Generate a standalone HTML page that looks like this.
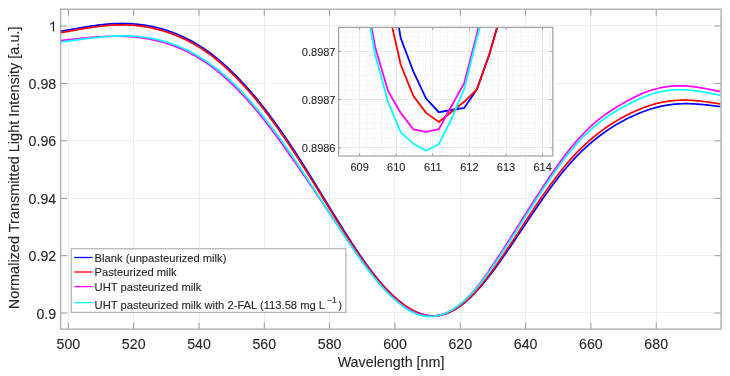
<!DOCTYPE html>
<html><head><meta charset="utf-8"><style>
html,body{margin:0;padding:0;background:#fff;width:730px;height:376px;overflow:hidden}
svg{display:block}
text{font-family:"Liberation Sans",sans-serif;stroke:#262626;stroke-width:0.1px}
svg{will-change:transform}

</style></head><body>
<svg width="730" height="376" viewBox="0 0 730 376">
<g>
<rect width="730" height="376" fill="#fff"/>
<path d="M68.5 9.2V329.1M133.5 9.2V329.1M199.5 9.2V329.1M264.5 9.2V329.1M329.5 9.2V329.1M394.5 9.2V329.1M460.5 9.2V329.1M525.5 9.2V329.1M590.5 9.2V329.1M656.5 9.2V329.1M60.6 25.5H721M60.6 83.5H721M60.6 140.5H721M60.6 198.5H721M60.6 255.5H721M60.6 312.5H721" stroke="#eeeeee" stroke-width="1" fill="none"/>
<defs><clipPath id="cm"><rect x="60.6" y="9.2" width="660.4" height="319.90000000000003"/></clipPath><clipPath id="ci"><rect x="338.6" y="27.4" width="214.2" height="128.6"/></clipPath></defs>
<g clip-path="url(#cm)" fill="none" stroke-width="1.7" stroke-linejoin="round">
<path d="M60.5,31.31 61.5,31.14 62.5,30.96 63.5,30.79 64.5,30.61 65.5,30.44 66.5,30.26 67.5,30.08 68.5,29.91 69.5,29.73 70.5,29.56 71.5,29.38 72.5,29.2 73.5,29.03 74.5,28.85 75.5,28.68 76.5,28.51 77.5,28.33 78.5,28.16 79.5,27.99 80.5,27.82 81.5,27.65 82.5,27.48 83.5,27.31 84.5,27.15 85.5,26.99 86.5,26.82 87.5,26.66 88.5,26.51 89.5,26.35 90.5,26.2 91.5,26.05 92.5,25.9 93.5,25.75 94.5,25.61 95.5,25.47 96.5,25.34 97.5,25.2 98.5,25.08 99.5,24.95 100.5,24.83 101.5,24.72 102.5,24.6 103.5,24.5 104.5,24.39 105.5,24.3 106.5,24.2 107.5,24.12 108.5,24.03 109.5,23.96 110.5,23.88 111.5,23.82 112.5,23.76 113.5,23.7 114.5,23.65 115.5,23.61 116.5,23.57 117.5,23.54 118.5,23.51 119.5,23.49 120.5,23.48 121.5,23.47 122.5,23.47 123.5,23.48 124.5,23.49 125.5,23.51 126.5,23.53 127.5,23.57 128.5,23.6 129.5,23.65 130.5,23.7 131.5,23.76 132.5,23.83 133.5,23.9 134.5,23.98 135.5,24.06 136.5,24.15 137.5,24.25 138.5,24.36 139.5,24.47 140.5,24.59 141.5,24.72 142.5,24.85 143.5,25.0 144.5,25.15 145.5,25.3 146.5,25.46 147.5,25.64 148.5,25.81 149.5,26.0 150.5,26.19 151.5,26.39 152.5,26.6 153.5,26.82 154.5,27.04 155.5,27.28 156.5,27.51 157.5,27.76 158.5,28.02 159.5,28.28 160.5,28.55 161.5,28.83 162.5,29.11 163.5,29.41 164.5,29.71 165.5,30.02 166.5,30.34 167.5,30.67 168.5,31.0 169.5,31.34 170.5,31.69 171.5,32.05 172.5,32.42 173.5,32.79 174.5,33.18 175.5,33.57 176.5,33.97 177.5,34.38 178.5,34.8 179.5,35.23 180.5,35.66 181.5,36.11 182.5,36.56 183.5,37.02 184.5,37.5 185.5,37.98 186.5,38.47 187.5,38.97 188.5,39.48 189.5,40.0 190.5,40.53 191.5,41.06 192.5,41.61 193.5,42.17 194.5,42.74 195.5,43.32 196.5,43.91 197.5,44.51 198.5,45.12 199.5,45.74 200.5,46.37 201.5,47.01 202.5,47.66 203.5,48.32 204.5,48.99 205.5,49.68 206.5,50.37 207.5,51.08 208.5,51.8 209.5,52.53 210.5,53.27 211.5,54.02 212.5,54.79 213.5,55.56 214.5,56.35 215.5,57.15 216.5,57.96 217.5,58.78 218.5,59.62 219.5,60.46 220.5,61.32 221.5,62.18 222.5,63.06 223.5,63.95 224.5,64.84 225.5,65.74 226.5,66.66 227.5,67.58 228.5,68.51 229.5,69.45 230.5,70.4 231.5,71.36 232.5,72.33 233.5,73.31 234.5,74.3 235.5,75.29 236.5,76.3 237.5,77.32 238.5,78.34 239.5,79.38 240.5,80.43 241.5,81.48 242.5,82.55 243.5,83.62 244.5,84.71 245.5,85.8 246.5,86.91 247.5,88.02 248.5,89.15 249.5,90.29 250.5,91.43 251.5,92.59 252.5,93.76 253.5,94.93 254.5,96.12 255.5,97.32 256.5,98.53 257.5,99.75 258.5,100.98 259.5,102.22 260.5,103.47 261.5,104.73 262.5,106.0 263.5,107.28 264.5,108.56 265.5,109.86 266.5,111.16 267.5,112.48 268.5,113.8 269.5,115.13 270.5,116.47 271.5,117.81 272.5,119.17 273.5,120.53 274.5,121.9 275.5,123.28 276.5,124.67 277.5,126.06 278.5,127.47 279.5,128.88 280.5,130.29 281.5,131.72 282.5,133.15 283.5,134.6 284.5,136.05 285.5,137.51 286.5,138.97 287.5,140.45 288.5,141.93 289.5,143.42 290.5,144.92 291.5,146.43 292.5,147.95 293.5,149.47 294.5,151.0 295.5,152.54 296.5,154.08 297.5,155.63 298.5,157.19 299.5,158.75 300.5,160.32 301.5,161.9 302.5,163.47 303.5,165.06 304.5,166.65 305.5,168.24 306.5,169.84 307.5,171.44 308.5,173.04 309.5,174.65 310.5,176.27 311.5,177.88 312.5,179.5 313.5,181.12 314.5,182.75 315.5,184.37 316.5,186.0 317.5,187.64 318.5,189.27 319.5,190.9 320.5,192.54 321.5,194.18 322.5,195.82 323.5,197.46 324.5,199.09 325.5,200.73 326.5,202.37 327.5,204.01 328.5,205.64 329.5,207.28 330.5,208.91 331.5,210.54 332.5,212.17 333.5,213.79 334.5,215.41 335.5,217.03 336.5,218.65 337.5,220.26 338.5,221.87 339.5,223.47 340.5,225.07 341.5,226.67 342.5,228.26 343.5,229.84 344.5,231.43 345.5,233.0 346.5,234.57 347.5,236.14 348.5,237.7 349.5,239.25 350.5,240.8 351.5,242.35 352.5,243.88 353.5,245.41 354.5,246.93 355.5,248.44 356.5,249.94 357.5,251.44 358.5,252.92 359.5,254.4 360.5,255.86 361.5,257.32 362.5,258.76 363.5,260.19 364.5,261.61 365.5,263.02 366.5,264.42 367.5,265.8 368.5,267.17 369.5,268.53 370.5,269.87 371.5,271.19 372.5,272.51 373.5,273.8 374.5,275.09 375.5,276.35 376.5,277.6 377.5,278.83 378.5,280.05 379.5,281.24 380.5,282.42 381.5,283.58 382.5,284.73 383.5,285.85 384.5,286.96 385.5,288.04 386.5,289.11 387.5,290.17 388.5,291.2 389.5,292.21 390.5,293.21 391.5,294.19 392.5,295.15 393.5,296.09 394.5,297.02 395.5,297.92 396.5,298.81 397.5,299.68 398.5,300.53 399.5,301.36 400.5,302.17 401.5,302.96 402.5,303.73 403.5,304.47 404.5,305.2 405.5,305.91 406.5,306.59 407.5,307.26 408.5,307.9 409.5,308.52 410.5,309.11 411.5,309.68 412.5,310.23 413.5,310.76 414.5,311.26 415.5,311.74 416.5,312.19 417.5,312.62 418.5,313.02 419.5,313.4 420.5,313.75 421.5,314.08 422.5,314.38 423.5,314.66 424.5,314.91 425.5,315.13 426.5,315.33 427.5,315.49 428.5,315.64 429.5,315.75 430.5,315.84 431.5,315.9 432.5,315.94 433.5,315.94 434.5,315.92 435.5,315.87 436.5,315.79 437.5,315.68 438.5,315.55 439.5,315.39 440.5,315.2 441.5,314.98 442.5,314.74 443.5,314.47 444.5,314.17 445.5,313.85 446.5,313.49 447.5,313.11 448.5,312.71 449.5,312.27 450.5,311.81 451.5,311.32 452.5,310.81 453.5,310.27 454.5,309.71 455.5,309.12 456.5,308.5 457.5,307.86 458.5,307.19 459.5,306.5 460.5,305.78 461.5,305.04 462.5,304.27 463.5,303.48 464.5,302.67 465.5,301.83 466.5,300.97 467.5,300.09 468.5,299.19 469.5,298.26 470.5,297.31 471.5,296.34 472.5,295.35 473.5,294.34 474.5,293.32 475.5,292.27 476.5,291.2 477.5,290.11 478.5,289.01 479.5,287.88 480.5,286.74 481.5,285.58 482.5,284.41 483.5,283.22 484.5,282.01 485.5,280.79 486.5,279.55 487.5,278.29 488.5,277.02 489.5,275.74 490.5,274.45 491.5,273.14 492.5,271.81 493.5,270.48 494.5,269.13 495.5,267.78 496.5,266.41 497.5,265.03 498.5,263.65 499.5,262.25 500.5,260.85 501.5,259.43 502.5,258.01 503.5,256.59 504.5,255.15 505.5,253.71 506.5,252.27 507.5,250.82 508.5,249.36 509.5,247.9 510.5,246.44 511.5,244.97 512.5,243.5 513.5,242.03 514.5,240.55 515.5,239.07 516.5,237.58 517.5,236.09 518.5,234.6 519.5,233.11 520.5,231.62 521.5,230.12 522.5,228.62 523.5,227.11 524.5,225.61 525.5,224.11 526.5,222.6 527.5,221.1 528.5,219.6 529.5,218.1 530.5,216.6 531.5,215.11 532.5,213.62 533.5,212.14 534.5,210.66 535.5,209.18 536.5,207.71 537.5,206.25 538.5,204.79 539.5,203.34 540.5,201.9 541.5,200.47 542.5,199.04 543.5,197.62 544.5,196.2 545.5,194.8 546.5,193.4 547.5,192.01 548.5,190.63 549.5,189.26 550.5,187.9 551.5,186.54 552.5,185.19 553.5,183.86 554.5,182.53 555.5,181.21 556.5,179.91 557.5,178.61 558.5,177.33 559.5,176.06 560.5,174.8 561.5,173.55 562.5,172.32 563.5,171.09 564.5,169.89 565.5,168.69 566.5,167.51 567.5,166.34 568.5,165.19 569.5,164.05 570.5,162.92 571.5,161.81 572.5,160.71 573.5,159.62 574.5,158.55 575.5,157.49 576.5,156.45 577.5,155.42 578.5,154.4 579.5,153.4 580.5,152.42 581.5,151.44 582.5,150.48 583.5,149.54 584.5,148.61 585.5,147.68 586.5,146.78 587.5,145.88 588.5,144.99 589.5,144.12 590.5,143.26 591.5,142.41 592.5,141.57 593.5,140.74 594.5,139.92 595.5,139.11 596.5,138.31 597.5,137.52 598.5,136.74 599.5,135.98 600.5,135.22 601.5,134.48 602.5,133.74 603.5,133.02 604.5,132.31 605.5,131.6 606.5,130.91 607.5,130.23 608.5,129.56 609.5,128.9 610.5,128.25 611.5,127.6 612.5,126.97 613.5,126.35 614.5,125.74 615.5,125.14 616.5,124.54 617.5,123.96 618.5,123.38 619.5,122.81 620.5,122.25 621.5,121.7 622.5,121.16 623.5,120.63 624.5,120.1 625.5,119.58 626.5,119.07 627.5,118.57 628.5,118.08 629.5,117.59 630.5,117.11 631.5,116.64 632.5,116.18 633.5,115.72 634.5,115.27 635.5,114.83 636.5,114.39 637.5,113.96 638.5,113.54 639.5,113.13 640.5,112.72 641.5,112.33 642.5,111.94 643.5,111.56 644.5,111.18 645.5,110.82 646.5,110.46 647.5,110.11 648.5,109.77 649.5,109.44 650.5,109.12 651.5,108.81 652.5,108.51 653.5,108.21 654.5,107.93 655.5,107.65 656.5,107.39 657.5,107.13 658.5,106.88 659.5,106.65 660.5,106.42 661.5,106.2 662.5,106.0 663.5,105.8 664.5,105.61 665.5,105.43 666.5,105.26 667.5,105.1 668.5,104.94 669.5,104.8 670.5,104.67 671.5,104.54 672.5,104.43 673.5,104.32 674.5,104.22 675.5,104.13 676.5,104.05 677.5,103.97 678.5,103.91 679.5,103.85 680.5,103.8 681.5,103.76 682.5,103.73 683.5,103.71 684.5,103.69 685.5,103.69 686.5,103.68 687.5,103.69 688.5,103.7 689.5,103.73 690.5,103.75 691.5,103.79 692.5,103.83 693.5,103.88 694.5,103.93 695.5,103.99 696.5,104.05 697.5,104.12 698.5,104.2 699.5,104.28 700.5,104.36 701.5,104.45 702.5,104.54 703.5,104.64 704.5,104.73 705.5,104.84 706.5,104.94 707.5,105.05 708.5,105.16 709.5,105.27 710.5,105.39 711.5,105.51 712.5,105.62 713.5,105.74 714.5,105.87 715.5,105.99 716.5,106.11 717.5,106.24 718.5,106.36 719.5,106.49 720.5,106.61" stroke="#0000ff"/>
<path d="M60.5,32.71 61.5,32.53 62.5,32.35 63.5,32.18 64.5,32.0 65.5,31.82 66.5,31.65 67.5,31.47 68.5,31.29 69.5,31.11 70.5,30.94 71.5,30.76 72.5,30.58 73.5,30.41 74.5,30.23 75.5,30.06 76.5,29.88 77.5,29.71 78.5,29.53 79.5,29.36 80.5,29.19 81.5,29.02 82.5,28.85 83.5,28.69 84.5,28.52 85.5,28.36 86.5,28.2 87.5,28.04 88.5,27.88 89.5,27.73 90.5,27.58 91.5,27.43 92.5,27.28 93.5,27.14 94.5,27.0 95.5,26.86 96.5,26.73 97.5,26.6 98.5,26.47 99.5,26.35 100.5,26.23 101.5,26.12 102.5,26.01 103.5,25.9 104.5,25.8 105.5,25.71 106.5,25.62 107.5,25.53 108.5,25.45 109.5,25.38 110.5,25.31 111.5,25.24 112.5,25.18 113.5,25.13 114.5,25.08 115.5,25.04 116.5,25.0 117.5,24.97 118.5,24.95 119.5,24.93 120.5,24.92 121.5,24.91 122.5,24.91 123.5,24.92 124.5,24.93 125.5,24.95 126.5,24.98 127.5,25.01 128.5,25.05 129.5,25.09 130.5,25.15 131.5,25.21 132.5,25.27 133.5,25.35 134.5,25.43 135.5,25.52 136.5,25.61 137.5,25.72 138.5,25.83 139.5,25.94 140.5,26.07 141.5,26.2 142.5,26.34 143.5,26.49 144.5,26.64 145.5,26.8 146.5,26.97 147.5,27.15 148.5,27.34 149.5,27.53 150.5,27.73 151.5,27.93 152.5,28.15 153.5,28.37 154.5,28.6 155.5,28.83 156.5,29.08 157.5,29.33 158.5,29.59 159.5,29.86 160.5,30.13 161.5,30.41 162.5,30.7 163.5,31.0 164.5,31.3 165.5,31.62 166.5,31.94 167.5,32.27 168.5,32.61 169.5,32.95 170.5,33.3 171.5,33.67 172.5,34.04 173.5,34.41 174.5,34.8 175.5,35.19 176.5,35.6 177.5,36.01 178.5,36.43 179.5,36.86 180.5,37.29 181.5,37.74 182.5,38.19 183.5,38.66 184.5,39.13 185.5,39.61 186.5,40.1 187.5,40.61 188.5,41.12 189.5,41.64 190.5,42.16 191.5,42.7 192.5,43.25 193.5,43.81 194.5,44.38 195.5,44.96 196.5,45.55 197.5,46.15 198.5,46.76 199.5,47.38 200.5,48.01 201.5,48.65 202.5,49.3 203.5,49.96 204.5,50.63 205.5,51.32 206.5,52.01 207.5,52.72 208.5,53.44 209.5,54.17 210.5,54.91 211.5,55.66 212.5,56.43 213.5,57.2 214.5,57.99 215.5,58.79 216.5,59.6 217.5,60.42 218.5,61.26 219.5,62.1 220.5,62.96 221.5,63.82 222.5,64.7 223.5,65.58 224.5,66.48 225.5,67.38 226.5,68.3 227.5,69.22 228.5,70.15 229.5,71.1 230.5,72.05 231.5,73.01 232.5,73.98 233.5,74.96 234.5,75.95 235.5,76.95 236.5,77.96 237.5,78.98 238.5,80.01 239.5,81.05 240.5,82.09 241.5,83.15 242.5,84.22 243.5,85.3 244.5,86.39 245.5,87.49 246.5,88.6 247.5,89.72 248.5,90.85 249.5,91.99 250.5,93.14 251.5,94.31 252.5,95.48 253.5,96.66 254.5,97.85 255.5,99.05 256.5,100.27 257.5,101.49 258.5,102.73 259.5,103.97 260.5,105.23 261.5,106.49 262.5,107.76 263.5,109.05 264.5,110.34 265.5,111.65 266.5,112.96 267.5,114.28 268.5,115.61 269.5,116.95 270.5,118.3 271.5,119.66 272.5,121.02 273.5,122.39 274.5,123.77 275.5,125.16 276.5,126.55 277.5,127.96 278.5,129.37 279.5,130.78 280.5,132.21 281.5,133.64 282.5,135.08 283.5,136.52 284.5,137.98 285.5,139.44 286.5,140.91 287.5,142.39 288.5,143.88 289.5,145.37 290.5,146.87 291.5,148.38 292.5,149.9 293.5,151.42 294.5,152.95 295.5,154.48 296.5,156.02 297.5,157.56 298.5,159.11 299.5,160.66 300.5,162.22 301.5,163.78 302.5,165.35 303.5,166.92 304.5,168.49 305.5,170.07 306.5,171.65 307.5,173.24 308.5,174.83 309.5,176.42 310.5,178.02 311.5,179.62 312.5,181.22 313.5,182.83 314.5,184.44 315.5,186.05 316.5,187.66 317.5,189.28 318.5,190.9 319.5,192.52 320.5,194.15 321.5,195.77 322.5,197.4 323.5,199.03 324.5,200.66 325.5,202.29 326.5,203.92 327.5,205.54 328.5,207.17 329.5,208.79 330.5,210.42 331.5,212.04 332.5,213.65 333.5,215.27 334.5,216.88 335.5,218.49 336.5,220.09 337.5,221.69 338.5,223.28 339.5,224.87 340.5,226.45 341.5,228.03 342.5,229.6 343.5,231.17 344.5,232.74 345.5,234.3 346.5,235.85 347.5,237.4 348.5,238.94 349.5,240.48 350.5,242.01 351.5,243.53 352.5,245.05 353.5,246.56 354.5,248.06 355.5,249.55 356.5,251.04 357.5,252.51 358.5,253.97 359.5,255.42 360.5,256.87 361.5,258.3 362.5,259.71 363.5,261.12 364.5,262.51 365.5,263.89 366.5,265.26 367.5,266.61 368.5,267.95 369.5,269.27 370.5,270.58 371.5,271.87 372.5,273.15 373.5,274.41 374.5,275.66 375.5,276.89 376.5,278.11 377.5,279.3 378.5,280.49 379.5,281.65 380.5,282.8 381.5,283.93 382.5,285.05 383.5,286.14 384.5,287.22 385.5,288.28 386.5,289.33 387.5,290.36 388.5,291.37 389.5,292.36 390.5,293.34 391.5,294.3 392.5,295.24 393.5,296.16 394.5,297.07 395.5,297.96 396.5,298.84 397.5,299.69 398.5,300.53 399.5,301.34 400.5,302.14 401.5,302.92 402.5,303.68 403.5,304.42 404.5,305.14 405.5,305.84 406.5,306.52 407.5,307.18 408.5,307.82 409.5,308.43 410.5,309.02 411.5,309.59 412.5,310.14 413.5,310.66 414.5,311.16 415.5,311.64 416.5,312.1 417.5,312.53 418.5,312.93 419.5,313.31 420.5,313.67 421.5,314.0 422.5,314.31 423.5,314.59 424.5,314.84 425.5,315.07 426.5,315.27 427.5,315.45 428.5,315.6 429.5,315.72 430.5,315.82 431.5,315.89 432.5,315.93 433.5,315.94 434.5,315.92 435.5,315.88 436.5,315.8 437.5,315.7 438.5,315.58 439.5,315.42 440.5,315.23 441.5,315.02 442.5,314.78 443.5,314.51 444.5,314.21 445.5,313.89 446.5,313.53 447.5,313.15 448.5,312.74 449.5,312.31 450.5,311.84 451.5,311.35 452.5,310.83 453.5,310.29 454.5,309.72 455.5,309.12 456.5,308.49 457.5,307.83 458.5,307.15 459.5,306.45 460.5,305.71 461.5,304.95 462.5,304.17 463.5,303.36 464.5,302.52 465.5,301.66 466.5,300.78 467.5,299.87 468.5,298.93 469.5,297.98 470.5,297.0 471.5,295.99 472.5,294.97 473.5,293.92 474.5,292.85 475.5,291.76 476.5,290.65 477.5,289.52 478.5,288.37 479.5,287.2 480.5,286.01 481.5,284.8 482.5,283.57 483.5,282.33 484.5,281.07 485.5,279.79 486.5,278.5 487.5,277.19 488.5,275.87 489.5,274.53 490.5,273.18 491.5,271.82 492.5,270.45 493.5,269.06 494.5,267.66 495.5,266.26 496.5,264.84 497.5,263.41 498.5,261.98 499.5,260.53 500.5,259.08 501.5,257.62 502.5,256.15 503.5,254.68 504.5,253.2 505.5,251.72 506.5,250.23 507.5,248.74 508.5,247.25 509.5,245.75 510.5,244.25 511.5,242.74 512.5,241.23 513.5,239.72 514.5,238.2 515.5,236.68 516.5,235.16 517.5,233.63 518.5,232.1 519.5,230.57 520.5,229.04 521.5,227.5 522.5,225.97 523.5,224.43 524.5,222.89 525.5,221.35 526.5,219.81 527.5,218.27 528.5,216.74 529.5,215.2 530.5,213.67 531.5,212.15 532.5,210.63 533.5,209.11 534.5,207.61 535.5,206.1 536.5,204.61 537.5,203.12 538.5,201.65 539.5,200.18 540.5,198.72 541.5,197.27 542.5,195.83 543.5,194.4 544.5,192.98 545.5,191.56 546.5,190.16 547.5,188.76 548.5,187.37 549.5,185.99 550.5,184.62 551.5,183.25 552.5,181.9 553.5,180.55 554.5,179.22 555.5,177.89 556.5,176.58 557.5,175.27 558.5,173.98 559.5,172.7 560.5,171.43 561.5,170.17 562.5,168.93 563.5,167.7 564.5,166.48 565.5,165.27 566.5,164.08 567.5,162.91 568.5,161.74 569.5,160.6 570.5,159.47 571.5,158.35 572.5,157.25 573.5,156.16 574.5,155.09 575.5,154.04 576.5,152.99 577.5,151.96 578.5,150.95 579.5,149.95 580.5,148.96 581.5,147.99 582.5,147.03 583.5,146.08 584.5,145.14 585.5,144.22 586.5,143.3 587.5,142.4 588.5,141.51 589.5,140.63 590.5,139.76 591.5,138.89 592.5,138.04 593.5,137.2 594.5,136.37 595.5,135.55 596.5,134.74 597.5,133.94 598.5,133.15 599.5,132.38 600.5,131.61 601.5,130.86 602.5,130.11 603.5,129.38 604.5,128.66 605.5,127.96 606.5,127.26 607.5,126.57 608.5,125.9 609.5,125.24 610.5,124.58 611.5,123.94 612.5,123.31 613.5,122.68 614.5,122.07 615.5,121.46 616.5,120.86 617.5,120.27 618.5,119.69 619.5,119.12 620.5,118.56 621.5,118.0 622.5,117.45 623.5,116.91 624.5,116.37 625.5,115.84 626.5,115.32 627.5,114.81 628.5,114.31 629.5,113.81 630.5,113.32 631.5,112.84 632.5,112.36 633.5,111.9 634.5,111.44 635.5,110.99 636.5,110.54 637.5,110.11 638.5,109.68 639.5,109.26 640.5,108.86 641.5,108.46 642.5,108.06 643.5,107.68 644.5,107.31 645.5,106.94 646.5,106.59 647.5,106.24 648.5,105.9 649.5,105.58 650.5,105.26 651.5,104.95 652.5,104.65 653.5,104.36 654.5,104.08 655.5,103.81 656.5,103.55 657.5,103.3 658.5,103.06 659.5,102.83 660.5,102.61 661.5,102.4 662.5,102.2 663.5,102.01 664.5,101.83 665.5,101.66 666.5,101.5 667.5,101.35 668.5,101.2 669.5,101.07 670.5,100.95 671.5,100.83 672.5,100.73 673.5,100.63 674.5,100.54 675.5,100.46 676.5,100.4 677.5,100.34 678.5,100.28 679.5,100.24 680.5,100.21 681.5,100.18 682.5,100.17 683.5,100.16 684.5,100.16 685.5,100.17 686.5,100.18 687.5,100.21 688.5,100.24 689.5,100.28 690.5,100.32 691.5,100.37 692.5,100.43 693.5,100.5 694.5,100.57 695.5,100.65 696.5,100.73 697.5,100.82 698.5,100.92 699.5,101.02 700.5,101.12 701.5,101.24 702.5,101.35 703.5,101.47 704.5,101.6 705.5,101.72 706.5,101.86 707.5,101.99 708.5,102.13 709.5,102.27 710.5,102.42 711.5,102.57 712.5,102.72 713.5,102.87 714.5,103.02 715.5,103.18 716.5,103.33 717.5,103.49 718.5,103.65 719.5,103.81 720.5,103.97" stroke="#ff0000"/>
<path d="M60.5,40.57 61.5,40.46 62.5,40.35 63.5,40.24 64.5,40.13 65.5,40.02 66.5,39.91 67.5,39.8 68.5,39.69 69.5,39.58 70.5,39.47 71.5,39.36 72.5,39.26 73.5,39.15 74.5,39.04 75.5,38.94 76.5,38.83 77.5,38.72 78.5,38.62 79.5,38.52 80.5,38.42 81.5,38.32 82.5,38.22 83.5,38.12 84.5,38.02 85.5,37.93 86.5,37.83 87.5,37.74 88.5,37.65 89.5,37.56 90.5,37.47 91.5,37.39 92.5,37.3 93.5,37.22 94.5,37.14 95.5,37.07 96.5,36.99 97.5,36.92 98.5,36.85 99.5,36.79 100.5,36.73 101.5,36.67 102.5,36.61 103.5,36.56 104.5,36.51 105.5,36.47 106.5,36.43 107.5,36.39 108.5,36.35 109.5,36.32 110.5,36.3 111.5,36.27 112.5,36.25 113.5,36.24 114.5,36.23 115.5,36.22 116.5,36.22 117.5,36.22 118.5,36.23 119.5,36.24 120.5,36.25 121.5,36.27 122.5,36.3 123.5,36.33 124.5,36.36 125.5,36.4 126.5,36.44 127.5,36.49 128.5,36.55 129.5,36.61 130.5,36.67 131.5,36.74 132.5,36.82 133.5,36.91 134.5,37.0 135.5,37.09 136.5,37.19 137.5,37.3 138.5,37.42 139.5,37.54 140.5,37.66 141.5,37.8 142.5,37.94 143.5,38.09 144.5,38.24 145.5,38.4 146.5,38.57 147.5,38.74 148.5,38.92 149.5,39.11 150.5,39.3 151.5,39.5 152.5,39.71 153.5,39.93 154.5,40.15 155.5,40.38 156.5,40.61 157.5,40.85 158.5,41.1 159.5,41.36 160.5,41.63 161.5,41.9 162.5,42.18 163.5,42.46 164.5,42.76 165.5,43.06 166.5,43.37 167.5,43.69 168.5,44.02 169.5,44.35 170.5,44.7 171.5,45.05 172.5,45.41 173.5,45.78 174.5,46.16 175.5,46.54 176.5,46.94 177.5,47.34 178.5,47.75 179.5,48.17 180.5,48.6 181.5,49.04 182.5,49.48 183.5,49.93 184.5,50.4 185.5,50.87 186.5,51.35 187.5,51.84 188.5,52.34 189.5,52.84 190.5,53.36 191.5,53.89 192.5,54.43 193.5,54.97 194.5,55.53 195.5,56.09 196.5,56.67 197.5,57.26 198.5,57.85 199.5,58.46 200.5,59.08 201.5,59.71 202.5,60.35 203.5,61.0 204.5,61.66 205.5,62.34 206.5,63.02 207.5,63.71 208.5,64.42 209.5,65.13 210.5,65.85 211.5,66.59 212.5,67.34 213.5,68.09 214.5,68.86 215.5,69.64 216.5,70.43 217.5,71.23 218.5,72.04 219.5,72.86 220.5,73.69 221.5,74.53 222.5,75.39 223.5,76.25 224.5,77.12 225.5,78.01 226.5,78.9 227.5,79.81 228.5,80.73 229.5,81.65 230.5,82.59 231.5,83.54 232.5,84.5 233.5,85.47 234.5,86.45 235.5,87.44 236.5,88.44 237.5,89.45 238.5,90.48 239.5,91.51 240.5,92.56 241.5,93.61 242.5,94.68 243.5,95.75 244.5,96.84 245.5,97.94 246.5,99.04 247.5,100.16 248.5,101.28 249.5,102.41 250.5,103.55 251.5,104.7 252.5,105.86 253.5,107.02 254.5,108.2 255.5,109.38 256.5,110.57 257.5,111.77 258.5,112.97 259.5,114.19 260.5,115.41 261.5,116.65 262.5,117.89 263.5,119.14 264.5,120.4 265.5,121.67 266.5,122.94 267.5,124.23 268.5,125.53 269.5,126.83 270.5,128.14 271.5,129.47 272.5,130.8 273.5,132.14 274.5,133.48 275.5,134.84 276.5,136.2 277.5,137.57 278.5,138.95 279.5,140.34 280.5,141.73 281.5,143.13 282.5,144.54 283.5,145.95 284.5,147.36 285.5,148.79 286.5,150.21 287.5,151.64 288.5,153.07 289.5,154.51 290.5,155.94 291.5,157.38 292.5,158.81 293.5,160.25 294.5,161.69 295.5,163.13 296.5,164.57 297.5,166.01 298.5,167.46 299.5,168.9 300.5,170.35 301.5,171.8 302.5,173.25 303.5,174.7 304.5,176.15 305.5,177.61 306.5,179.07 307.5,180.53 308.5,182.0 309.5,183.46 310.5,184.93 311.5,186.41 312.5,187.88 313.5,189.36 314.5,190.84 315.5,192.33 316.5,193.82 317.5,195.31 318.5,196.8 319.5,198.3 320.5,199.8 321.5,201.3 322.5,202.8 323.5,204.3 324.5,205.81 325.5,207.31 326.5,208.81 327.5,210.32 328.5,211.82 329.5,213.33 330.5,214.83 331.5,216.33 332.5,217.83 333.5,219.33 334.5,220.83 335.5,222.32 336.5,223.81 337.5,225.3 338.5,226.79 339.5,228.28 340.5,229.77 341.5,231.26 342.5,232.74 343.5,234.23 344.5,235.71 345.5,237.19 346.5,238.68 347.5,240.16 348.5,241.64 349.5,243.11 350.5,244.59 351.5,246.06 352.5,247.52 353.5,248.98 354.5,250.44 355.5,251.89 356.5,253.33 357.5,254.76 358.5,256.19 359.5,257.61 360.5,259.01 361.5,260.41 362.5,261.8 363.5,263.18 364.5,264.54 365.5,265.89 366.5,267.23 367.5,268.56 368.5,269.87 369.5,271.17 370.5,272.46 371.5,273.73 372.5,274.99 373.5,276.23 374.5,277.46 375.5,278.67 376.5,279.87 377.5,281.06 378.5,282.23 379.5,283.38 380.5,284.51 381.5,285.63 382.5,286.74 383.5,287.82 384.5,288.89 385.5,289.95 386.5,290.98 387.5,292.0 388.5,293.0 389.5,293.99 390.5,294.95 391.5,295.9 392.5,296.83 393.5,297.75 394.5,298.65 395.5,299.52 396.5,300.38 397.5,301.22 398.5,302.05 399.5,302.85 400.5,303.63 401.5,304.39 402.5,305.13 403.5,305.85 404.5,306.55 405.5,307.22 406.5,307.87 407.5,308.5 408.5,309.1 409.5,309.68 410.5,310.24 411.5,310.77 412.5,311.28 413.5,311.77 414.5,312.22 415.5,312.66 416.5,313.07 417.5,313.45 418.5,313.81 419.5,314.14 420.5,314.44 421.5,314.72 422.5,314.98 423.5,315.2 424.5,315.4 425.5,315.58 426.5,315.72 427.5,315.84 428.5,315.93 429.5,315.99 430.5,316.03 431.5,316.04 432.5,316.02 433.5,315.97 434.5,315.89 435.5,315.79 436.5,315.65 437.5,315.49 438.5,315.3 439.5,315.08 440.5,314.83 441.5,314.56 442.5,314.25 443.5,313.92 444.5,313.56 445.5,313.18 446.5,312.76 447.5,312.32 448.5,311.85 449.5,311.35 450.5,310.82 451.5,310.27 452.5,309.69 453.5,309.08 454.5,308.44 455.5,307.77 456.5,307.08 457.5,306.36 458.5,305.61 459.5,304.83 460.5,304.02 461.5,303.19 462.5,302.33 463.5,301.44 464.5,300.52 465.5,299.58 466.5,298.61 467.5,297.62 468.5,296.6 469.5,295.55 470.5,294.48 471.5,293.38 472.5,292.26 473.5,291.12 474.5,289.95 475.5,288.76 476.5,287.54 477.5,286.31 478.5,285.05 479.5,283.77 480.5,282.47 481.5,281.15 482.5,279.81 483.5,278.46 484.5,277.08 485.5,275.69 486.5,274.29 487.5,272.87 488.5,271.44 489.5,269.99 490.5,268.53 491.5,267.06 492.5,265.58 493.5,264.09 494.5,262.58 495.5,261.08 496.5,259.56 497.5,258.03 498.5,256.5 499.5,254.97 500.5,253.43 501.5,251.89 502.5,250.34 503.5,248.79 504.5,247.24 505.5,245.68 506.5,244.12 507.5,242.56 508.5,241.0 509.5,239.44 510.5,237.87 511.5,236.3 512.5,234.72 513.5,233.15 514.5,231.57 515.5,229.99 516.5,228.41 517.5,226.82 518.5,225.23 519.5,223.64 520.5,222.06 521.5,220.47 522.5,218.87 523.5,217.28 524.5,215.69 525.5,214.1 526.5,212.52 527.5,210.93 528.5,209.34 529.5,207.76 530.5,206.18 531.5,204.6 532.5,203.03 533.5,201.46 534.5,199.9 535.5,198.34 536.5,196.78 537.5,195.23 538.5,193.68 539.5,192.14 540.5,190.6 541.5,189.07 542.5,187.54 543.5,186.02 544.5,184.5 545.5,182.99 546.5,181.49 547.5,179.99 548.5,178.5 549.5,177.02 550.5,175.54 551.5,174.07 552.5,172.62 553.5,171.17 554.5,169.73 555.5,168.3 556.5,166.88 557.5,165.47 558.5,164.07 559.5,162.69 560.5,161.31 561.5,159.95 562.5,158.6 563.5,157.26 564.5,155.94 565.5,154.63 566.5,153.33 567.5,152.05 568.5,150.79 569.5,149.53 570.5,148.3 571.5,147.08 572.5,145.87 573.5,144.68 574.5,143.5 575.5,142.34 576.5,141.19 577.5,140.06 578.5,138.94 579.5,137.83 580.5,136.74 581.5,135.67 582.5,134.61 583.5,133.56 584.5,132.53 585.5,131.52 586.5,130.51 587.5,129.53 588.5,128.56 589.5,127.6 590.5,126.66 591.5,125.74 592.5,124.83 593.5,123.94 594.5,123.06 595.5,122.2 596.5,121.35 597.5,120.52 598.5,119.71 599.5,118.91 600.5,118.12 601.5,117.35 602.5,116.6 603.5,115.86 604.5,115.13 605.5,114.41 606.5,113.71 607.5,113.02 608.5,112.34 609.5,111.67 610.5,111.01 611.5,110.36 612.5,109.72 613.5,109.09 614.5,108.46 615.5,107.85 616.5,107.23 617.5,106.63 618.5,106.03 619.5,105.43 620.5,104.84 621.5,104.25 622.5,103.67 623.5,103.09 624.5,102.51 625.5,101.94 626.5,101.38 627.5,100.82 628.5,100.27 629.5,99.73 630.5,99.19 631.5,98.66 632.5,98.14 633.5,97.63 634.5,97.12 635.5,96.63 636.5,96.14 637.5,95.66 638.5,95.2 639.5,94.74 640.5,94.3 641.5,93.86 642.5,93.44 643.5,93.03 644.5,92.63 645.5,92.24 646.5,91.86 647.5,91.49 648.5,91.13 649.5,90.79 650.5,90.46 651.5,90.14 652.5,89.83 653.5,89.53 654.5,89.24 655.5,88.97 656.5,88.71 657.5,88.46 658.5,88.22 659.5,87.99 660.5,87.78 661.5,87.58 662.5,87.39 663.5,87.21 664.5,87.04 665.5,86.88 666.5,86.74 667.5,86.6 668.5,86.48 669.5,86.37 670.5,86.27 671.5,86.18 672.5,86.1 673.5,86.03 674.5,85.97 675.5,85.93 676.5,85.89 677.5,85.86 678.5,85.85 679.5,85.84 680.5,85.85 681.5,85.86 682.5,85.88 683.5,85.92 684.5,85.96 685.5,86.01 686.5,86.07 687.5,86.14 688.5,86.22 689.5,86.3 690.5,86.4 691.5,86.5 692.5,86.61 693.5,86.72 694.5,86.85 695.5,86.98 696.5,87.11 697.5,87.26 698.5,87.4 699.5,87.56 700.5,87.72 701.5,87.89 702.5,88.06 703.5,88.23 704.5,88.41 705.5,88.6 706.5,88.78 707.5,88.98 708.5,89.17 709.5,89.37 710.5,89.58 711.5,89.78 712.5,89.99 713.5,90.2 714.5,90.41 715.5,90.62 716.5,90.84 717.5,91.05 718.5,91.27 719.5,91.49 720.5,91.71" stroke="#ff00ff"/>
<path d="M60.5,41.99 61.5,41.87 62.5,41.74 63.5,41.61 64.5,41.48 65.5,41.36 66.5,41.23 67.5,41.1 68.5,40.97 69.5,40.84 70.5,40.72 71.5,40.59 72.5,40.46 73.5,40.33 74.5,40.21 75.5,40.08 76.5,39.95 77.5,39.82 78.5,39.7 79.5,39.57 80.5,39.44 81.5,39.32 82.5,39.19 83.5,39.07 84.5,38.94 85.5,38.82 86.5,38.69 87.5,38.57 88.5,38.45 89.5,38.33 90.5,38.21 91.5,38.09 92.5,37.97 93.5,37.86 94.5,37.74 95.5,37.63 96.5,37.52 97.5,37.42 98.5,37.31 99.5,37.21 100.5,37.11 101.5,37.02 102.5,36.93 103.5,36.84 104.5,36.75 105.5,36.67 106.5,36.59 107.5,36.51 108.5,36.44 109.5,36.37 110.5,36.31 111.5,36.25 112.5,36.2 113.5,36.15 114.5,36.1 115.5,36.06 116.5,36.02 117.5,35.99 118.5,35.96 119.5,35.94 120.5,35.92 121.5,35.91 122.5,35.9 123.5,35.9 124.5,35.9 125.5,35.91 126.5,35.93 127.5,35.95 128.5,35.98 129.5,36.01 130.5,36.05 131.5,36.09 132.5,36.14 133.5,36.2 134.5,36.26 135.5,36.33 136.5,36.41 137.5,36.49 138.5,36.58 139.5,36.68 140.5,36.78 141.5,36.89 142.5,37.0 143.5,37.13 144.5,37.25 145.5,37.39 146.5,37.53 147.5,37.68 148.5,37.84 149.5,38.01 150.5,38.18 151.5,38.36 152.5,38.54 153.5,38.74 154.5,38.94 155.5,39.15 156.5,39.37 157.5,39.59 158.5,39.83 159.5,40.07 160.5,40.32 161.5,40.58 162.5,40.85 163.5,41.12 164.5,41.41 165.5,41.7 166.5,42.0 167.5,42.31 168.5,42.63 169.5,42.95 170.5,43.29 171.5,43.64 172.5,43.99 173.5,44.35 174.5,44.73 175.5,45.11 176.5,45.5 177.5,45.89 178.5,46.3 179.5,46.72 180.5,47.14 181.5,47.57 182.5,48.02 183.5,48.47 184.5,48.93 185.5,49.39 186.5,49.87 187.5,50.36 188.5,50.85 189.5,51.36 190.5,51.87 191.5,52.39 192.5,52.93 193.5,53.47 194.5,54.02 195.5,54.58 196.5,55.15 197.5,55.73 198.5,56.32 199.5,56.92 200.5,57.53 201.5,58.15 202.5,58.78 203.5,59.42 204.5,60.07 205.5,60.73 206.5,61.41 207.5,62.09 208.5,62.78 209.5,63.48 210.5,64.19 211.5,64.91 212.5,65.65 213.5,66.39 214.5,67.14 215.5,67.91 216.5,68.68 217.5,69.47 218.5,70.26 219.5,71.07 220.5,71.89 221.5,72.72 222.5,73.56 223.5,74.41 224.5,75.27 225.5,76.14 226.5,77.02 227.5,77.91 228.5,78.82 229.5,79.73 230.5,80.66 231.5,81.6 232.5,82.55 233.5,83.5 234.5,84.47 235.5,85.45 236.5,86.45 237.5,87.45 238.5,88.46 239.5,89.48 240.5,90.52 241.5,91.56 242.5,92.62 243.5,93.69 244.5,94.76 245.5,95.85 246.5,96.95 247.5,98.05 248.5,99.17 249.5,100.29 250.5,101.42 251.5,102.57 252.5,103.72 253.5,104.87 254.5,106.04 255.5,107.22 256.5,108.4 257.5,109.59 258.5,110.79 259.5,112.0 260.5,113.22 261.5,114.44 262.5,115.68 263.5,116.92 264.5,118.17 265.5,119.43 266.5,120.69 267.5,121.97 268.5,123.25 269.5,124.55 270.5,125.85 271.5,127.16 272.5,128.48 273.5,129.8 274.5,131.14 275.5,132.48 276.5,133.83 277.5,135.19 278.5,136.56 279.5,137.94 280.5,139.32 281.5,140.72 282.5,142.12 283.5,143.53 284.5,144.95 285.5,146.38 286.5,147.81 287.5,149.25 288.5,150.7 289.5,152.15 290.5,153.61 291.5,155.07 292.5,156.54 293.5,158.01 294.5,159.49 295.5,160.97 296.5,162.45 297.5,163.94 298.5,165.43 299.5,166.92 300.5,168.42 301.5,169.92 302.5,171.43 303.5,172.94 304.5,174.45 305.5,175.96 306.5,177.48 307.5,179.0 308.5,180.53 309.5,182.06 310.5,183.59 311.5,185.13 312.5,186.66 313.5,188.21 314.5,189.75 315.5,191.3 316.5,192.85 317.5,194.4 318.5,195.95 319.5,197.51 320.5,199.06 321.5,200.62 322.5,202.18 323.5,203.73 324.5,205.29 325.5,206.84 326.5,208.4 327.5,209.95 328.5,211.5 329.5,213.05 330.5,214.59 331.5,216.13 332.5,217.67 333.5,219.2 334.5,220.73 335.5,222.25 336.5,223.78 337.5,225.29 338.5,226.81 339.5,228.32 340.5,229.83 341.5,231.34 342.5,232.85 343.5,234.35 344.5,235.85 345.5,237.35 346.5,238.85 347.5,240.35 348.5,241.85 349.5,243.34 350.5,244.83 351.5,246.32 352.5,247.8 353.5,249.27 354.5,250.74 355.5,252.2 356.5,253.66 357.5,255.11 358.5,256.55 359.5,257.97 360.5,259.39 361.5,260.8 362.5,262.2 363.5,263.59 364.5,264.96 365.5,266.32 366.5,267.67 367.5,269.01 368.5,270.33 369.5,271.64 370.5,272.93 371.5,274.22 372.5,275.48 373.5,276.73 374.5,277.97 375.5,279.19 376.5,280.4 377.5,281.59 378.5,282.77 379.5,283.93 380.5,285.08 381.5,286.2 382.5,287.32 383.5,288.41 384.5,289.49 385.5,290.55 386.5,291.6 387.5,292.63 388.5,293.64 389.5,294.64 390.5,295.61 391.5,296.57 392.5,297.52 393.5,298.44 394.5,299.35 395.5,300.24 396.5,301.11 397.5,301.97 398.5,302.8 399.5,303.61 400.5,304.41 401.5,305.18 402.5,305.93 403.5,306.66 404.5,307.36 405.5,308.04 406.5,308.7 407.5,309.34 408.5,309.94 409.5,310.53 410.5,311.09 411.5,311.62 412.5,312.12 413.5,312.6 414.5,313.05 415.5,313.48 416.5,313.88 417.5,314.24 418.5,314.58 419.5,314.9 420.5,315.18 421.5,315.44 422.5,315.67 423.5,315.87 424.5,316.04 425.5,316.19 426.5,316.3 427.5,316.39 428.5,316.45 429.5,316.48 430.5,316.49 431.5,316.46 432.5,316.41 433.5,316.33 434.5,316.22 435.5,316.08 436.5,315.91 437.5,315.72 438.5,315.5 439.5,315.25 440.5,314.97 441.5,314.67 442.5,314.34 443.5,313.98 444.5,313.6 445.5,313.19 446.5,312.76 447.5,312.3 448.5,311.81 449.5,311.3 450.5,310.76 451.5,310.2 452.5,309.61 453.5,308.99 454.5,308.35 455.5,307.69 456.5,307.0 457.5,306.28 458.5,305.54 459.5,304.77 460.5,303.98 461.5,303.16 462.5,302.32 463.5,301.46 464.5,300.57 465.5,299.65 466.5,298.72 467.5,297.76 468.5,296.77 469.5,295.77 470.5,294.74 471.5,293.69 472.5,292.62 473.5,291.53 474.5,290.41 475.5,289.28 476.5,288.13 477.5,286.95 478.5,285.76 479.5,284.55 480.5,283.31 481.5,282.06 482.5,280.79 483.5,279.5 484.5,278.2 485.5,276.87 486.5,275.53 487.5,274.17 488.5,272.8 489.5,271.41 490.5,270.0 491.5,268.59 492.5,267.16 493.5,265.72 494.5,264.26 495.5,262.8 496.5,261.32 497.5,259.84 498.5,258.35 499.5,256.85 500.5,255.34 501.5,253.83 502.5,252.31 503.5,250.79 504.5,249.26 505.5,247.73 506.5,246.19 507.5,244.65 508.5,243.1 509.5,241.55 510.5,240.0 511.5,238.45 512.5,236.89 513.5,235.32 514.5,233.76 515.5,232.19 516.5,230.62 517.5,229.05 518.5,227.47 519.5,225.89 520.5,224.31 521.5,222.73 522.5,221.15 523.5,219.57 524.5,217.99 525.5,216.41 526.5,214.83 527.5,213.25 528.5,211.67 529.5,210.1 530.5,208.52 531.5,206.95 532.5,205.39 533.5,203.83 534.5,202.27 535.5,200.71 536.5,199.16 537.5,197.62 538.5,196.08 539.5,194.55 540.5,193.02 541.5,191.5 542.5,189.98 543.5,188.47 544.5,186.96 545.5,185.46 546.5,183.97 547.5,182.48 548.5,181.0 549.5,179.52 550.5,178.06 551.5,176.6 552.5,175.15 553.5,173.71 554.5,172.28 555.5,170.86 556.5,169.45 557.5,168.06 558.5,166.67 559.5,165.3 560.5,163.93 561.5,162.59 562.5,161.25 563.5,159.93 564.5,158.62 565.5,157.32 566.5,156.04 567.5,154.77 568.5,153.52 569.5,152.29 570.5,151.07 571.5,149.86 572.5,148.68 573.5,147.51 574.5,146.35 575.5,145.21 576.5,144.09 577.5,142.98 578.5,141.89 579.5,140.81 580.5,139.75 581.5,138.7 582.5,137.67 583.5,136.65 584.5,135.65 585.5,134.66 586.5,133.69 587.5,132.73 588.5,131.79 589.5,130.86 590.5,129.95 591.5,129.05 592.5,128.16 593.5,127.29 594.5,126.43 595.5,125.59 596.5,124.76 597.5,123.94 598.5,123.14 599.5,122.35 600.5,121.57 601.5,120.81 602.5,120.07 603.5,119.34 604.5,118.62 605.5,117.91 606.5,117.22 607.5,116.53 608.5,115.86 609.5,115.2 610.5,114.55 611.5,113.92 612.5,113.29 613.5,112.67 614.5,112.05 615.5,111.45 616.5,110.85 617.5,110.26 618.5,109.68 619.5,109.1 620.5,108.53 621.5,107.97 622.5,107.41 623.5,106.85 624.5,106.3 625.5,105.76 626.5,105.22 627.5,104.69 628.5,104.16 629.5,103.64 630.5,103.13 631.5,102.62 632.5,102.12 633.5,101.62 634.5,101.14 635.5,100.66 636.5,100.18 637.5,99.72 638.5,99.26 639.5,98.81 640.5,98.37 641.5,97.94 642.5,97.52 643.5,97.1 644.5,96.7 645.5,96.31 646.5,95.92 647.5,95.55 648.5,95.19 649.5,94.84 650.5,94.5 651.5,94.17 652.5,93.85 653.5,93.55 654.5,93.25 655.5,92.97 656.5,92.7 657.5,92.44 658.5,92.2 659.5,91.96 660.5,91.74 661.5,91.53 662.5,91.34 663.5,91.15 664.5,90.98 665.5,90.82 666.5,90.67 667.5,90.53 668.5,90.4 669.5,90.29 670.5,90.18 671.5,90.09 672.5,90.0 673.5,89.93 674.5,89.87 675.5,89.82 676.5,89.78 677.5,89.75 678.5,89.73 679.5,89.72 680.5,89.72 681.5,89.73 682.5,89.75 683.5,89.78 684.5,89.82 685.5,89.87 686.5,89.93 687.5,89.99 688.5,90.07 689.5,90.15 690.5,90.24 691.5,90.33 692.5,90.44 693.5,90.55 694.5,90.67 695.5,90.8 696.5,90.93 697.5,91.07 698.5,91.21 699.5,91.36 700.5,91.52 701.5,91.68 702.5,91.85 703.5,92.02 704.5,92.19 705.5,92.37 706.5,92.56 707.5,92.74 708.5,92.94 709.5,93.13 710.5,93.32 711.5,93.52 712.5,93.72 713.5,93.93 714.5,94.13 715.5,94.34 716.5,94.54 717.5,94.75 718.5,94.96 719.5,95.17 720.5,95.38" stroke="#00ffff"/>
</g>
<path d="M68.4 329.1v-6.5M68.4 9.2v6.5M133.7 329.1v-6.5M133.7 9.2v6.5M199.0 329.1v-6.5M199.0 9.2v6.5M264.3 329.1v-6.5M264.3 9.2v6.5M329.6 329.1v-6.5M329.6 9.2v6.5M395.0 329.1v-6.5M395.0 9.2v6.5M460.3 329.1v-6.5M460.3 9.2v6.5M525.6 329.1v-6.5M525.6 9.2v6.5M590.9 329.1v-6.5M590.9 9.2v6.5M656.2 329.1v-6.5M656.2 9.2v6.5M60.6 26.0h6.5M721 26.0h-6.5M60.6 83.4h6.5M721 83.4h-6.5M60.6 140.9h6.5M721 140.9h-6.5M60.6 198.3h6.5M721 198.3h-6.5M60.6 255.7h6.5M721 255.7h-6.5M60.6 313.1h6.5M721 313.1h-6.5" stroke="#9a9a9a" stroke-width="1" fill="none"/>
<rect x="60.6" y="9.2" width="660.4" height="319.90000000000003" stroke="#ababab" stroke-width="1.3" fill="none"/>
<g font-family="Liberation Sans, sans-serif" font-size="14.2" fill="#262626">
<text x="68.4" y="348.8" text-anchor="middle">500</text>
<text x="133.7" y="348.8" text-anchor="middle">520</text>
<text x="199.0" y="348.8" text-anchor="middle">540</text>
<text x="264.3" y="348.8" text-anchor="middle">560</text>
<text x="329.6" y="348.8" text-anchor="middle">580</text>
<text x="395.0" y="348.8" text-anchor="middle">600</text>
<text x="460.3" y="348.8" text-anchor="middle">620</text>
<text x="525.6" y="348.8" text-anchor="middle">640</text>
<text x="590.9" y="348.8" text-anchor="middle">660</text>
<text x="656.2" y="348.8" text-anchor="middle">680</text>
<text x="56.2" y="88.8" text-anchor="end">0.98</text>
<text x="56.2" y="146.3" text-anchor="end">0.96</text>
<text x="56.2" y="203.7" text-anchor="end">0.94</text>
<text x="56.2" y="261.1" text-anchor="end">0.92</text>
<text x="56.2" y="318.5" text-anchor="end">0.9</text>
</g>
<path d="M54.1,31.4 L54.1,21.4 L53.0,21.4 C52.7,22.6 51.6,23.3 50.2,23.5 L50.2,24.7 C51.3,24.6 52.2,24.2 52.8,23.6 L52.8,31.4 Z" fill="#262626"/>
<text x="391" y="367.2" text-anchor="middle" font-family="Liberation Sans, sans-serif" font-size="14.3" fill="#262626">Wavelength [nm]</text>
<text transform="translate(19.3,167.9) rotate(-90)" text-anchor="middle" font-family="Liberation Sans, sans-serif" font-size="14.5" fill="#262626">Normalized Transmitted Light Intensity [a.u.]</text>
<rect x="71.2" y="248.8" width="274.7" height="63.5" fill="#fff" stroke="#a0a0a0" stroke-width="1"/>
<path d="M74.2 257.5H92.7" stroke="#0000ff" stroke-width="1.3"/>
<text x="94.6" y="261.7" font-family="Liberation Sans, sans-serif" font-size="11.2" fill="#262626">Blank (unpasteurized milk)</text>
<path d="M74.2 272H92.7" stroke="#ff0000" stroke-width="1.3"/>
<text x="94.6" y="276.4" font-family="Liberation Sans, sans-serif" font-size="11.2" fill="#262626">Pasteurized milk</text>
<path d="M74.2 286.6H92.7" stroke="#ff00ff" stroke-width="1.3"/>
<text x="94.6" y="291.1" font-family="Liberation Sans, sans-serif" font-size="11.2" fill="#262626">UHT pasteurized milk</text>
<path d="M74.2 302.6H92.7" stroke="#00ffff" stroke-width="1.3"/>
<text x="94.6" y="309.0" font-family="Liberation Sans, sans-serif" font-size="11.2" fill="#262626">UHT pasteurized milk with 2-FAL (113.58 mg L<tspan dx="1.8" dy="-6" font-size="8.6">−1</tspan><tspan dx="1.6" dy="6" font-size="11.2">)</tspan></text>
<rect x="338.6" y="27.4" width="214.19999999999993" height="128.6" fill="#fff"/>
<path d="M345.0 27.4V156.0M352.3 27.4V156.0M359.6 27.4V156.0M366.9 27.4V156.0M374.2 27.4V156.0M381.6 27.4V156.0M388.9 27.4V156.0M396.2 27.4V156.0M403.5 27.4V156.0M410.8 27.4V156.0M418.2 27.4V156.0M425.5 27.4V156.0M432.8 27.4V156.0M440.1 27.4V156.0M447.4 27.4V156.0M454.8 27.4V156.0M462.1 27.4V156.0M469.4 27.4V156.0M476.7 27.4V156.0M484.0 27.4V156.0M491.4 27.4V156.0M498.7 27.4V156.0M506.0 27.4V156.0M513.3 27.4V156.0M520.6 27.4V156.0M528.0 27.4V156.0M535.3 27.4V156.0M542.6 27.4V156.0M549.9 27.4V156.0M338.6 32.1H552.8M338.6 37.0H552.8M338.6 41.8H552.8M338.6 46.6H552.8M338.6 51.4H552.8M338.6 56.2H552.8M338.6 61.0H552.8M338.6 65.8H552.8M338.6 70.7H552.8M338.6 75.5H552.8M338.6 80.3H552.8M338.6 85.1H552.8M338.6 89.9H552.8M338.6 94.7H552.8M338.6 99.6H552.8M338.6 104.4H552.8M338.6 109.2H552.8M338.6 114.0H552.8M338.6 118.8H552.8M338.6 123.6H552.8M338.6 128.4H552.8M338.6 133.3H552.8M338.6 138.1H552.8M338.6 142.9H552.8M338.6 147.7H552.8M338.6 152.5H552.8" stroke="#e2e2e2" stroke-width="0.8" stroke-dasharray="0.8 1.6" fill="none"/>
<path d="M359.5 27.4V156.0M396.5 27.4V156.0M432.5 27.4V156.0M469.5 27.4V156.0M506.5 27.4V156.0M542.5 27.4V156.0M338.6 51.5H552.8M338.6 99.5H552.8M338.6 147.5H552.8" stroke="#ebebeb" stroke-width="1" fill="none"/>
<g clip-path="url(#ci)" fill="none" stroke-width="1.8" stroke-linejoin="miter">
<path d="M398.9,27.4 400.7,38 413.4,71.6 426.1,98.6 438.8,112.2 451.5,110 464.2,108 476.9,89.4 489.6,53.5 497.1,27.4" stroke="#0000ff"/>
<path d="M392.3,27.4 400.7,64.5 413.4,96 426.1,112.9 438.8,121.9 451.5,112 464.2,101.8 476.9,89.5 489.6,53.5 497.1,27.4" stroke="#ff0000"/>
<path d="M371.5,27.4 375.3,47.5 388,91 400.7,112.9 413.4,129.5 426.1,131.9 438.8,129.1 451.5,106 464.2,83.2 476.9,34 478.5,27.4" stroke="#ff00ff"/>
<path d="M370.3,27.4 375.3,55 388,102 400.7,132.3 413.4,143.8 426.1,150.8 438.8,144.2 451.5,119 464.2,89 476.9,38 479.8,27.4" stroke="#00ffff"/>
</g>
<path d="M359.6 156.0v-2.5M359.6 27.4v2.5M396.2 156.0v-2.5M396.2 27.4v2.5M432.8 156.0v-2.5M432.8 27.4v2.5M469.4 156.0v-2.5M469.4 27.4v2.5M506.0 156.0v-2.5M506.0 27.4v2.5M542.6 156.0v-2.5M542.6 27.4v2.5M338.6 51.4h2.5M552.8 51.4h-2.5M338.6 99.6h2.5M552.8 99.6h-2.5M338.6 147.8h2.5M552.8 147.8h-2.5" stroke="#9a9a9a" stroke-width="1" fill="none"/>
<rect x="338.6" y="27.4" width="214.19999999999993" height="128.6" stroke="#a0a0a0" stroke-width="1.2" fill="none"/>
<g font-family="Liberation Sans, sans-serif" font-size="11" fill="#262626">
<text x="359.6" y="170.8" text-anchor="middle">609</text>
<text x="396.2" y="170.8" text-anchor="middle">610</text>
<text x="432.8" y="170.8" text-anchor="middle">611</text>
<text x="469.4" y="170.8" text-anchor="middle">612</text>
<text x="506.0" y="170.8" text-anchor="middle">613</text>
<text x="542.6" y="170.8" text-anchor="middle">614</text>
<text x="335.5" y="55.9" text-anchor="end">0.8987</text>
<text x="335.5" y="104.1" text-anchor="end">0.8987</text>
<text x="335.5" y="152.3" text-anchor="end">0.8986</text>
</g>
</g>
</svg>
</body></html>
